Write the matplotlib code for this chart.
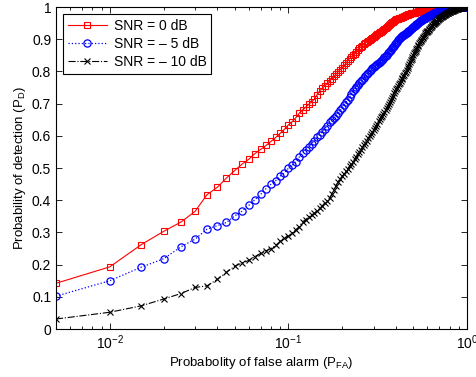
import numpy as np
import matplotlib
matplotlib.use("Agg")
import matplotlib.pyplot as plt

plt.rcParams['font.family'] = ['Liberation Sans', 'DejaVu Sans']
plt.rcParams['mathtext.default'] = 'regular'

# false alarm grid of the empirical ROC (k/200)
pfa = np.arange(1, 201) / 200.0

pd_0db = [
    0.142, 0.193, 0.262, 0.303, 0.332, 0.365, 0.417, 0.440, 0.469, 0.492,
    0.512, 0.527, 0.545, 0.558, 0.570, 0.583, 0.595, 0.608, 0.620, 0.634,
    0.644, 0.656, 0.670, 0.680, 0.689, 0.698, 0.706, 0.714, 0.728, 0.740,
    0.748, 0.755, 0.763, 0.771, 0.778, 0.785, 0.792, 0.799, 0.806, 0.812,
    0.819, 0.825, 0.833, 0.840, 0.845, 0.850, 0.855, 0.860, 0.867, 0.873,
    0.877, 0.880, 0.884, 0.888, 0.892, 0.895, 0.898, 0.902, 0.905, 0.908,
    0.911, 0.913, 0.916, 0.918, 0.921, 0.924, 0.927, 0.929, 0.932, 0.935,
    0.938, 0.941, 0.944, 0.947, 0.950, 0.953, 0.955, 0.957, 0.960, 0.962,
    0.963, 0.964, 0.965, 0.966, 0.967, 0.968, 0.969, 0.970, 0.972, 0.973,
    0.974, 0.975, 0.976, 0.977, 0.978, 0.979, 0.980, 0.980, 0.981, 0.982,
    0.983, 0.983, 0.984, 0.985, 0.985, 0.986, 0.987, 0.987, 0.988, 0.989,
    0.989, 0.990, 0.990, 0.991, 0.991, 0.991, 0.992, 0.992, 0.993, 0.993,
    0.993, 0.994, 0.994, 0.994, 0.995, 0.995, 0.995, 0.995, 0.996, 0.996,
    0.996, 0.996, 0.997, 0.997, 0.997, 0.997, 0.997, 0.998, 0.998, 0.998,
    0.998, 0.998, 0.998, 0.998, 0.999, 0.999, 0.999, 0.999, 0.999, 0.999,
    0.999, 0.999, 0.999, 0.999, 1.0, 1.0, 1.0, 1.0, 1.0, 1.0,
    1.0, 1.0, 1.0, 1.0, 1.0, 1.0, 1.0, 1.0, 1.0, 1.0,
    1.0, 1.0, 1.0, 1.0, 1.0, 1.0, 1.0, 1.0, 1.0, 1.0,
    1.0, 1.0, 1.0, 1.0, 1.0, 1.0, 1.0, 1.0, 1.0, 1.0,
    1.0, 1.0, 1.0, 1.0, 1.0, 1.0, 1.0, 1.0, 1.0, 1.0,
]

pd_m5db = [
    0.102, 0.150, 0.192, 0.218, 0.255, 0.279, 0.310, 0.321, 0.331, 0.351,
    0.366, 0.384, 0.402, 0.418, 0.436, 0.450, 0.461, 0.475, 0.486, 0.499,
    0.509, 0.520, 0.534, 0.547, 0.557, 0.566, 0.576, 0.585, 0.595, 0.604,
    0.613, 0.622, 0.632, 0.642, 0.649, 0.656, 0.663, 0.670, 0.679, 0.688,
    0.696, 0.704, 0.712, 0.720, 0.730, 0.740, 0.746, 0.752, 0.758, 0.763,
    0.769, 0.774, 0.780, 0.785, 0.791, 0.796, 0.800, 0.805, 0.810, 0.814,
    0.817, 0.820, 0.823, 0.826, 0.828, 0.832, 0.836, 0.840, 0.844, 0.848,
    0.852, 0.857, 0.861, 0.865, 0.868, 0.872, 0.876, 0.880, 0.884, 0.888,
    0.892, 0.897, 0.901, 0.905, 0.907, 0.909, 0.911, 0.913, 0.914, 0.915,
    0.918, 0.920, 0.922, 0.925, 0.927, 0.929, 0.931, 0.934, 0.936, 0.938,
    0.940, 0.942, 0.944, 0.946, 0.948, 0.950, 0.952, 0.954, 0.956, 0.958,
    0.959, 0.960, 0.962, 0.963, 0.964, 0.965, 0.966, 0.967, 0.969, 0.970,
    0.971, 0.972, 0.973, 0.974, 0.975, 0.976, 0.977, 0.978, 0.979, 0.980,
    0.981, 0.982, 0.983, 0.983, 0.984, 0.985, 0.986, 0.986, 0.987, 0.988,
    0.988, 0.989, 0.990, 0.990, 0.991, 0.991, 0.992, 0.992, 0.993, 0.993,
    0.994, 0.994, 0.995, 0.995, 0.995, 0.996, 0.996, 0.996, 0.996, 0.997,
    0.997, 0.997, 0.997, 0.997, 0.998, 0.998, 0.998, 0.998, 0.998, 0.998,
    0.998, 0.999, 0.999, 0.999, 0.999, 0.999, 0.999, 0.999, 0.999, 0.999,
    0.999, 0.999, 0.999, 1.0, 1.0, 1.0, 1.0, 1.0, 1.0, 1.0,
    1.0, 1.0, 1.0, 1.0, 1.0, 1.0, 1.0, 1.0, 1.0, 1.0,
]

pd_m10db = [
    0.031, 0.052, 0.072, 0.093, 0.110, 0.129, 0.134, 0.154, 0.176, 0.195,
    0.205, 0.213, 0.225, 0.235, 0.243, 0.250, 0.260, 0.272, 0.282, 0.288,
    0.298, 0.308, 0.318, 0.333, 0.340, 0.348, 0.354, 0.360, 0.368, 0.375,
    0.383, 0.392, 0.399, 0.406, 0.419, 0.432, 0.445, 0.458, 0.466, 0.474,
    0.482, 0.490, 0.498, 0.505, 0.513, 0.520, 0.528, 0.535, 0.543, 0.550,
    0.557, 0.564, 0.571, 0.578, 0.585, 0.592, 0.599, 0.605, 0.612, 0.618,
    0.625, 0.632, 0.638, 0.645, 0.651, 0.657, 0.662, 0.668, 0.674, 0.681,
    0.687, 0.693, 0.699, 0.706, 0.712, 0.718, 0.725, 0.732, 0.739, 0.745,
    0.750, 0.755, 0.760, 0.765, 0.770, 0.775, 0.780, 0.785, 0.790, 0.794,
    0.799, 0.804, 0.810, 0.816, 0.822, 0.828, 0.834, 0.840, 0.846, 0.852,
    0.856, 0.861, 0.865, 0.869, 0.874, 0.878, 0.882, 0.887, 0.891, 0.895,
    0.898, 0.901, 0.905, 0.908, 0.911, 0.914, 0.918, 0.921, 0.923, 0.925,
    0.927, 0.930, 0.932, 0.934, 0.937, 0.939, 0.941, 0.943, 0.946, 0.948,
    0.950, 0.952, 0.953, 0.955, 0.957, 0.958, 0.960, 0.962, 0.963, 0.965,
    0.966, 0.967, 0.968, 0.970, 0.971, 0.972, 0.973, 0.974, 0.975, 0.976,
    0.977, 0.978, 0.979, 0.980, 0.981, 0.982, 0.983, 0.984, 0.985, 0.985,
    0.986, 0.987, 0.988, 0.988, 0.989, 0.989, 0.990, 0.990, 0.991, 0.992,
    0.992, 0.993, 0.993, 0.994, 0.994, 0.995, 0.995, 0.996, 0.996, 0.996,
    0.997, 0.997, 0.997, 0.998, 0.998, 0.998, 0.998, 0.999, 0.999, 0.999,
    0.999, 0.999, 1.0, 1.0, 1.0, 1.0, 1.0, 1.0, 1.0, 1.0,
]

fig = plt.figure(figsize=(4.77, 3.77), dpi=100)
ax = fig.add_axes([0.1174, 0.1273, 0.8616, 0.854])

ax.semilogx(pfa, pd_0db, '-', color='red', marker='s', mfc='none',
            ms=4.5, mew=0.8, lw=0.8, label='SNR = 0 dB')
ax.semilogx(pfa, pd_m5db, ':', color='blue', marker='o', mfc='none',
            ms=5.2, mew=0.9, lw=0.9, label='SNR = \u2013 5 dB')
ax.semilogx(pfa, pd_m10db, '-.', color='black', marker='x',
            ms=4.5, mew=0.8, lw=0.8, label='SNR = \u2013 10 dB')

ax.set_xlim(0.005, 1)
ax.set_ylim(0, 1)
ax.set_yticks(np.arange(0, 1.01, 0.1))
ax.set_yticklabels(['0', '0.1', '0.2', '0.3', '0.4', '0.5', '0.6', '0.7', '0.8', '0.9', '1'])
ax.tick_params(which='both', direction='in', top=True, right=True, labelsize=10)
ax.tick_params(which='major', length=4, width=0.6)
ax.tick_params(which='minor', length=2, width=0.6)
for s in ax.spines.values():
    s.set_linewidth(0.8)

ax.set_xlabel('Probabolity of false alarm (P$_{FA}$)', fontsize=9.5, labelpad=2)
ax.set_ylabel('Probability of detection (P$_D$)', fontsize=9.5, labelpad=3)

leg = ax.legend(loc='upper left', fontsize=10, fancybox=False, framealpha=1,
                edgecolor='black', borderaxespad=0.5, handlelength=2.8,
                labelspacing=0.3, borderpad=0.35, handletextpad=0.5)
leg.get_frame().set_linewidth(0.8)

fig.savefig('out.png', dpi=100)
